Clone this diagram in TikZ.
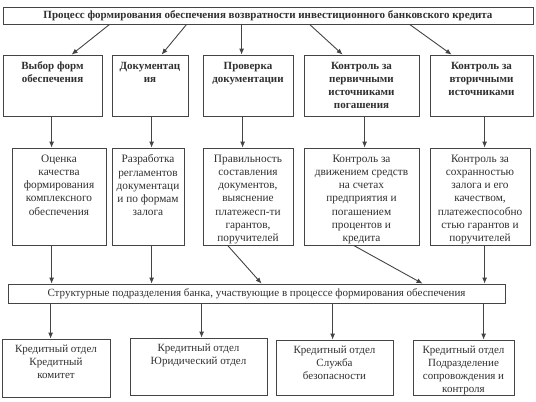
\documentclass[tikz,border=0pt]{standalone}
\usepackage{fontspec}
\setmainfont{Liberation Serif}
\usetikzlibrary{arrows.meta,fit}
\definecolor{ln}{HTML}{444444}
\definecolor{tx}{HTML}{303030}
\tikzset{
  box/.style={draw=ln, line width=0.8pt, inner sep=0pt, fill=white},
  txt/.style={text=tx, align=center, inner sep=0pt, font=\fontsize{11}{13}\selectfont},
  mtxt/.style={txt, font=\fontsize{11.3}{13.2}\selectfont},
  btxt/.style={txt, font=\fontsize{11}{13}\selectfont\bfseries},
  arr/.style={draw=ln, line width=0.9pt, -{Latex[length=6pt,width=5pt]}},
}
\begin{document}
\begin{tikzpicture}[x=1pt,y=-1pt]
\useasboundingbox (0,0) rectangle (536,402);
% top
\node[box, fit={(3,7) (533,24)}] (top) {};
\node[btxt] (topt) at (top.center) {Процесс формирования обеспечения возвратности инвестиционного банковского кредита};
% row 1
\node[box, fit={(3,55) (102,116)}] (b1) {};
\node[box, fit={(112,55) (188,116)}] (b2) {};
\node[box, fit={(203,55) (293,116)}] (b3) {};
\node[box, fit={(304,55) (419,116)}] (b4) {};
\node[box, fit={(430,55) (533,116)}] (b5) {};
\node[btxt, anchor=north] (b1t) at ([yshift=-7pt]b1.north) {Выбор форм\\обеспечения};
\node[btxt, anchor=north] (b2t) at ([yshift=-7pt]b2.north) {Документац\\ия};
\node[btxt, anchor=north] (b3t) at ([yshift=-7pt]b3.north) {Проверка\\документации};
\node[btxt, anchor=north] (b4t) at ([yshift=-7pt]b4.north) {Контроль за\\первичными\\источниками\\погашения};
\node[btxt, anchor=north] (b5t) at ([yshift=-7pt]b5.north) {Контроль за\\вторичными\\источниками};
% row 2
\node[box, fit={(12,148) (106,245)}] (c1) {};
\node[box, fit={(112,148) (184,245)}] (c2) {};
\node[box, fit={(203,148) (293,245)}] (c3) {};
\node[box, fit={(304,148) (419,245)}] (c4) {};
\node[box, fit={(430,148) (530,245)}] (c5) {};
\node[mtxt, anchor=north] (c1t) at ([yshift=-7pt]c1.north) {Оценка\\качества\\формирования\\комплексного\\обеспечения};
\node[mtxt, anchor=north] (c2t) at ([yshift=-7pt]c2.north) {Разработка\\регламентов\\документаци\\и по формам\\залога};
\node[mtxt, anchor=north] (c3t) at ([yshift=-7pt]c3.north) {Правильность\\составления\\документов,\\выяснение\\платежесп-ти\\гарантов,\\поручителей};
\node[mtxt, anchor=north] (c4t) at ([yshift=-7pt]c4.north) {Контроль за\\движением средств\\на счетах\\предприятия и\\погашением\\процентов и\\кредита};
\node[mtxt, anchor=north] (c5t) at ([yshift=-7pt]c5.north) {Контроль за\\сохранностью\\залога и его\\качеством,\\платежеспособно\\стью гарантов и\\поручителей};
% bar
\node[box, fit={(8,284) (505,303)}] (bar) {};
\node[txt] (bart) at (bar.center) {Структурные подразделения банка, участвующие в процессе формирования обеспечения};
% bottom
\node[box, fit={(2,339) (110,397)}] (d1) {};
\node[box, fit={(130,338) (267,395)}] (d2) {};
\node[box, fit={(276,340) (393,395)}] (d3) {};
\node[box, fit={(413,340) (514,395)}] (d4) {};
\node[txt, anchor=north] (d1t) at ([yshift=-6pt]d1.north) {Кредитный отдел\\Кредитный\\комитет};
\node[txt, anchor=north] (d2t) at ([yshift=-6pt]d2.north) {Кредитный отдел\\Юридический отдел};
\node[txt, anchor=north] (d3t) at ([yshift=-6pt]d3.north) {Кредитный отдел\\Служба\\безопасности};
\node[txt, anchor=north] (d4t) at ([yshift=-6pt]d4.north) {Кредитный отдел\\Подразделение\\сопровождения и\\контроля};
% arrows top -> row1
\draw[arr] ([xshift=107pt]top.south west) -- ([xshift=69pt]b1.north west);
\draw[arr] ([xshift=184pt]top.south west) -- ([xshift=50pt]b2.north west);
\draw[arr] ([xshift=239pt]top.south west) -- ([xshift=39pt]b3.north west);
\draw[arr] ([xshift=307pt]top.south west) -- ([xshift=39pt]b4.north west);
\draw[arr] ([xshift=407pt]top.south west) -- ([xshift=22pt]b5.north west);
% row1 -> row2
\coordinate (v1) at ([xshift=49pt]b1.south west);
\coordinate (v2) at ([xshift=40pt]b2.south west);
\coordinate (v3) at ([xshift=40pt]b3.south west);
\coordinate (v4) at ([xshift=61pt]b4.south west);
\coordinate (v5) at ([xshift=55pt]b5.south west);
\draw[arr] (v1) -- (v1 |- c1.north);
\draw[arr] (v2) -- (v2 |- c2.north);
\draw[arr] (v3) -- (v3 |- c3.north);
\draw[arr] (v4) -- (v4 |- c4.north);
\draw[arr] (v5) -- (v5 |- c5.north);
% row2 -> bar
\coordinate (w1) at ([xshift=40pt]c1.south west);
\coordinate (w2) at ([xshift=40pt]c2.south west);
\coordinate (w5) at ([xshift=55pt]c5.south west);
\draw[arr] (w1) -- (w1 |- bar.north);
\draw[arr] (w2) -- (w2 |- bar.north);
\draw[arr] ([xshift=25pt]c3.south west) -- ([xshift=254pt]bar.north west);
\draw[arr] ([xshift=50pt]c4.south west) -- ([xshift=415pt]bar.north west);
\draw[arr] (w5) -- (w5 |- bar.north);
% bar -> bottom
\coordinate (u1) at ([xshift=49pt]d1.north west);
\coordinate (u2) at ([xshift=72pt]d2.north west);
\coordinate (u3) at ([xshift=57pt]d3.north west);
\coordinate (u4) at ([xshift=71pt]d4.north west);
\draw[arr] (u1 |- bar.south) -- (u1);
\draw[arr] (u2 |- bar.south) -- (u2);
\draw[arr] (u3 |- bar.south) -- (u3);
\draw[arr] (u4 |- bar.south) -- (u4);
\end{tikzpicture}
\end{document}
